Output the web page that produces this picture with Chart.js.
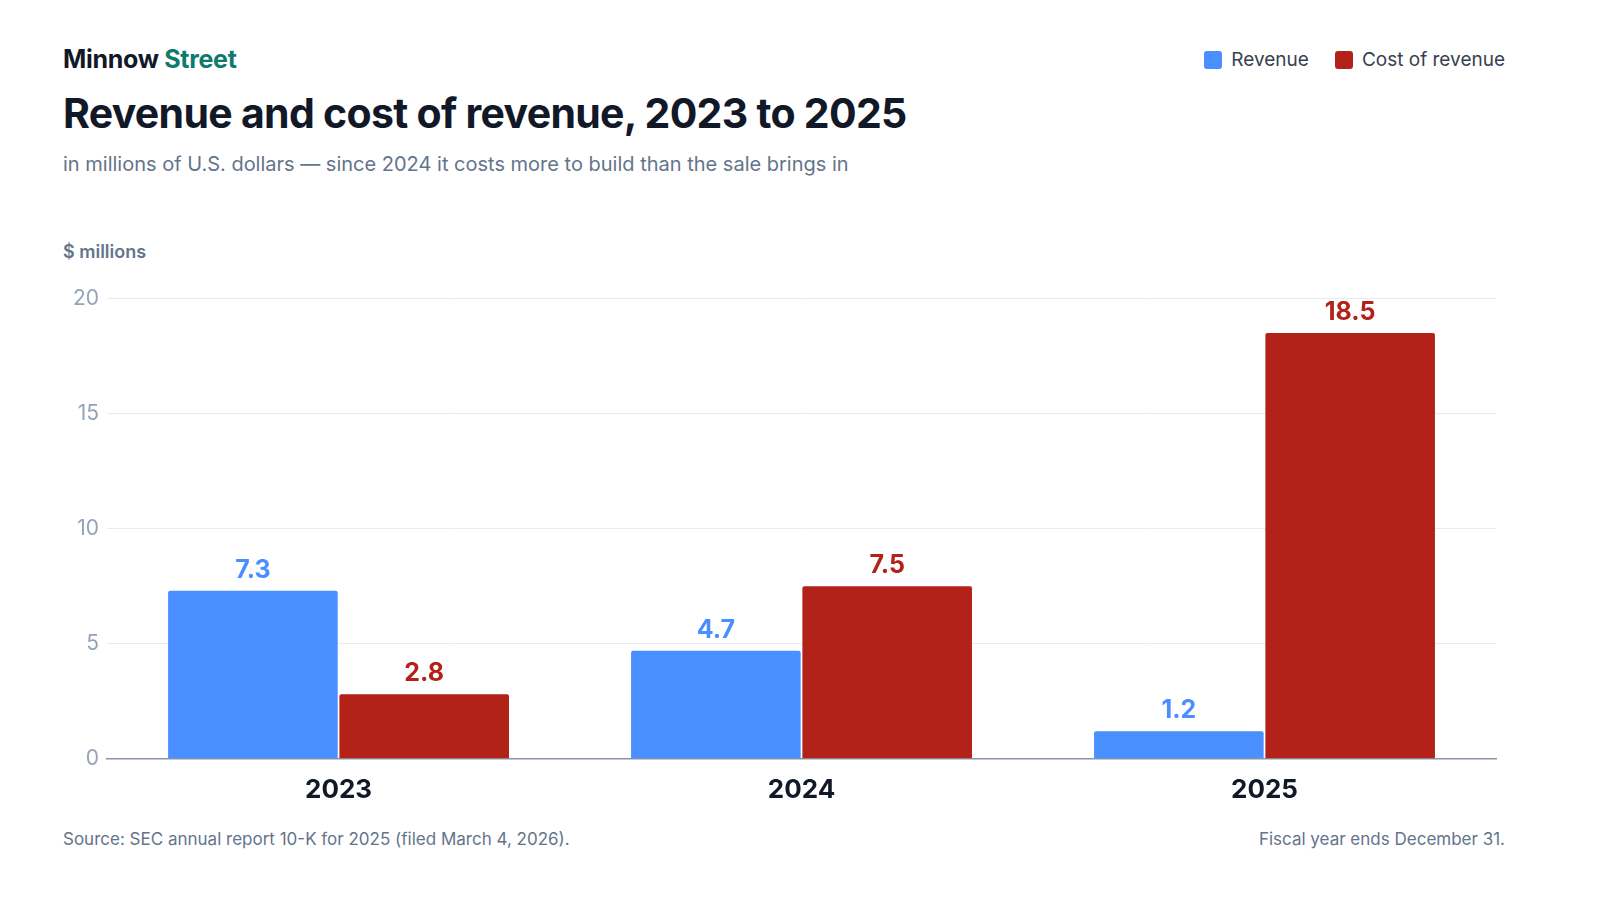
<!DOCTYPE html>
<html>
<head>
<meta charset="utf-8">
<script src="https://cdn.jsdelivr.net/npm/chart.js@4"></script>
<style>
  body { margin: 0; width: 1600px; height: 900px; background: #fff; font-family: Inter, "Noto Sans", sans-serif; position: relative; overflow: hidden; }
  .abs { position: absolute; }
  #brand { left: 63px; top: 44px; font-size: 25px; font-weight: 700; color: #111827; letter-spacing: -0.3px; }
  #brand span { color: #0f7b6c; }
  #title { left: 63px; top: 88px; font-size: 41px; font-weight: 700; color: #111827; letter-spacing: -0.7px; }
  #subtitle { left: 63px; top: 152px; font-size: 20px; color: #64748b; }
  #unit { left: 63px; top: 241px; font-size: 18px; font-weight: 600; color: #64748b; }
  #legend { right: 95px; top: 48px; font-size: 19px; color: #374151; display: flex; gap: 26px; }
  #legend i { display: inline-block; width: 18px; height: 18px; border-radius: 3px; vertical-align: -3px; margin-right: 9px; }
  #foot1 { left: 63px; top: 829px; font-size: 17px; color: #64748b; }
  #foot2 { right: 95px; top: 829px; font-size: 17px; color: #64748b; }
  #wrap { left: 55px; top: 278px; width: 1450px; height: 536px; }
</style>
</head>
<body>
<div class="abs" id="brand">Minnow <span>Street</span></div>
<div class="abs" id="title">Revenue and cost of revenue, 2023 to 2025</div>
<div class="abs" id="subtitle">in millions of U.S. dollars — since 2024 it costs more to build than the sale brings in</div>
<div class="abs" id="unit">$ millions</div>
<div class="abs" id="legend">
  <div><i style="background:#4a8fff"></i>Revenue</div>
  <div><i style="background:#b32218"></i>Cost of revenue</div>
</div>
<div class="abs" id="wrap"><canvas id="chart"></canvas></div>
<div class="abs" id="foot1">Source: SEC annual report 10-K for 2025 (filed March 4, 2026).</div>
<div class="abs" id="foot2">Fiscal year ends December 31.</div>
<script>
const years = ["2023", "2024", "2025"];
const revenue = [7.3, 4.7, 1.2];
const costOfRevenue = [2.8, 7.5, 18.5];
const blue = "#4a8fff";
const red = "#b32218";

const valueLabels = {
  id: "valueLabels",
  afterDatasetsDraw(chart) {
    const ctx = chart.ctx;
    ctx.save();
    ctx.font = "700 25px Inter";
    ctx.textAlign = "center";
    ctx.textBaseline = "bottom";
    chart.data.datasets.forEach((ds, i) => {
      chart.getDatasetMeta(i).data.forEach((bar, j) => {
        ctx.fillStyle = ds.backgroundColor;
        ctx.fillText(ds.data[j].toFixed(1), bar.x, bar.y - 8);
      });
    });
    ctx.restore();
  }
};

new Chart(document.getElementById("chart"), {
  type: "bar",
  data: {
    labels: years,
    datasets: [
      { label: "Revenue", data: revenue, backgroundColor: blue },
      { label: "Cost of revenue", data: costOfRevenue, backgroundColor: red }
    ]
  },
  options: {
    responsive: true,
    maintainAspectRatio: false,
    animation: false,
    categoryPercentage: 0.74,
    barPercentage: 0.99,
    layout: { padding: { top: 10, right: 9, left: 10 } },
    plugins: { legend: { display: false }, tooltip: { enabled: false } },
    elements: { bar: { borderRadius: { topLeft: 2, topRight: 2 } } },
    scales: {
      x: {
        grid: { display: false },
        border: { color: "#8a94a6", width: 1.5 },
        ticks: { color: "#111827", font: { family: "Inter", size: 26, weight: "700" }, padding: 8 }
      },
      y: {
        min: 0, max: 20,
        ticks: { stepSize: 5, color: "#94a3b8", font: { family: "Inter", size: 21 }, padding: 8 },
        grid: { color: "#e8eaee", drawTicks: false },
        border: { display: false }
      }
    }
  },
  plugins: [valueLabels]
});
</script>
</body>
</html>
